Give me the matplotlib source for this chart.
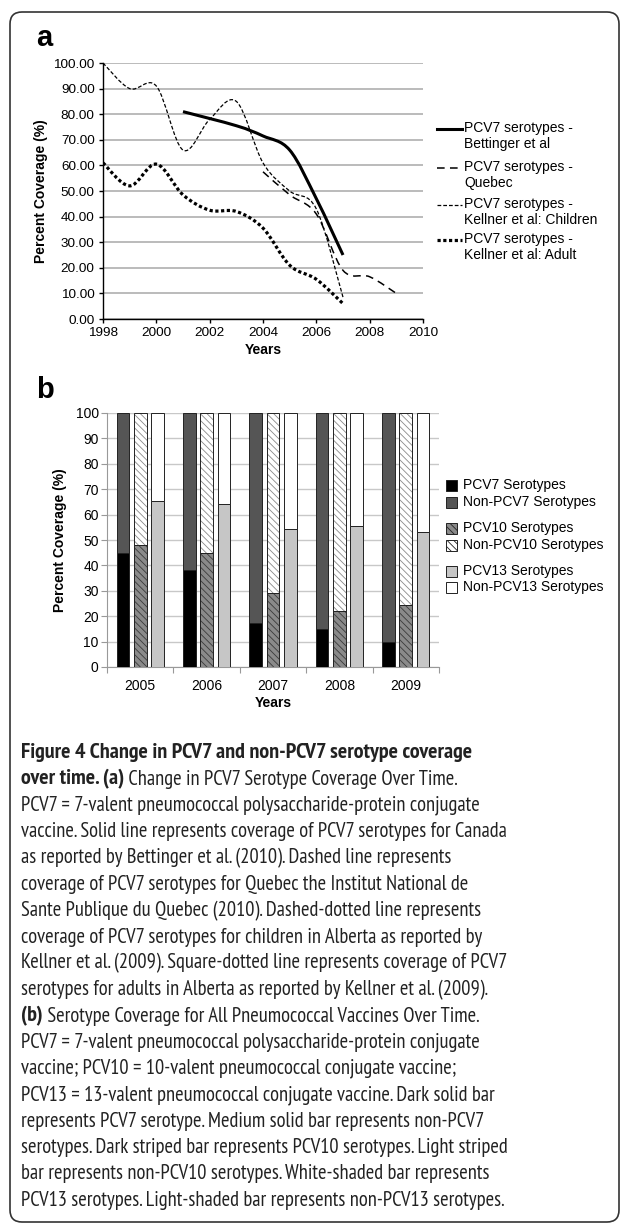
import numpy as np
import matplotlib
matplotlib.use('Agg')
import matplotlib.pyplot as plt
from matplotlib import font_manager
from matplotlib.path import Path
from matplotlib.patches import PathPatch, FancyBboxPatch, Rectangle
from matplotlib.lines import Line2D
from matplotlib.transforms import IdentityTransform
from matplotlib.ticker import FormatStrFormatter

# ---- panel a data (percent coverage by year) ----
bett_years = [2001, 2003, 2004, 2005, 2006, 2007]
bett_vals = [81, 75.5, 71.5, 66, 47, 25]
queb_years = [2004, 2005, 2006, 2007, 2008, 2009]
queb_vals = [57.5, 48.5, 41, 19, 16.5, 10]
child_years = [1998, 1999, 2000, 2001, 2002, 2003, 2004, 2005, 2006, 2007]
child_vals = [100, 90, 91, 66, 78, 85, 61, 50, 43, 8.5]
adult_years = [1998, 1999, 2000, 2001, 2002, 2003, 2004, 2005, 2006, 2007]
adult_vals = [61, 52, 60.5, 48.5, 42.5, 42, 35.5, 21, 15.5, 6]

# ---- panel b data ----
b_years = ['2005', '2006', '2007', '2008', '2009']
pcv7 = [45, 38, 17.5, 15, 10]
pcv10 = [48, 45, 29, 22, 24.5]
pcv13 = [65.5, 64, 54.5, 55.5, 53]

caption = [
    [("Figure 4 Change in PCV7 and non-PCV7 serotype coverage", 'bold')],
    [("over time. (a)", 'bold'), (" Change in PCV7 Serotype Coverage Over Time.", 'light')],
    [("PCV7 = 7-valent pneumococcal polysaccharide-protein conjugate", 'light')],
    [("vaccine. Solid line represents coverage of PCV7 serotypes for Canada", 'light')],
    [("as reported by Bettinger et al. (2010). Dashed line represents", 'light')],
    [("coverage of PCV7 serotypes for Quebec the Institut National de", 'light')],
    [("Sante Publique du Quebec (2010). Dashed-dotted line represents", 'light')],
    [("coverage of PCV7 serotypes for children in Alberta as reported by", 'light')],
    [("Kellner et al. (2009). Square-dotted line represents coverage of PCV7", 'light')],
    [("serotypes for adults in Alberta as reported by Kellner et al. (2009).", 'light')],
    [("(b)", 'bold'), (" Serotype Coverage for All Pneumococcal Vaccines Over Time.", 'light')],
    [("PCV7 = 7-valent pneumococcal polysaccharide-protein conjugate", 'light')],
    [("vaccine; PCV10 = 10-valent pneumococcal conjugate vaccine;", 'light')],
    [("PCV13 = 13-valent pneumococcal conjugate vaccine. Dark solid bar", 'light')],
    [("represents PCV7 serotype. Medium solid bar represents non-PCV7", 'light')],
    [("serotypes. Dark striped bar represents PCV10 serotypes. Light striped", 'light')],
    [("bar represents non-PCV10 serotypes. White-shaded bar represents", 'light')],
    [("PCV13 serotypes. Light-shaded bar represents non-PCV13 serotypes.", 'light')],
]


def pick(names):
    for n in names:
        try:
            font_manager.findfont(n, fallback_to_default=False)
            return n
        except ValueError:
            pass
    return 'DejaVu Sans'


plt.rcParams['font.family'] = 'Liberation Sans'
plt.rcParams['hatch.linewidth'] = 0.6
cap_font = pick(['PT Sans Narrow', 'Roboto Condensed', 'Fira Sans Condensed',
                 'Open Sans Condensed', 'Archivo Narrow', 'Source Sans 3', 'Lato'])

W, H = 629, 1225
fig = plt.figure(figsize=(W / 100, H / 100), dpi=100)
renderer = fig.canvas.get_renderer()


def fx(x):
    return x / W


def fy(y):
    return 1 - y / H


def smooth(ax, xs, ys, **kw):
    # Excel-like smoothed line (Catmull-Rom as cubic bezier)
    p = np.column_stack([xs, ys]).astype(float)
    ext = np.vstack([p[0], p, p[-1]])
    verts = [p[0]]
    codes = [Path.MOVETO]
    for i in range(len(p) - 1):
        p0, p1, p2, p3 = ext[i], ext[i + 1], ext[i + 2], ext[i + 3]
        verts += [p1 + (p2 - p0) / 6, p2 - (p3 - p1) / 6, p2]
        codes += [Path.CURVE4] * 3
    ax.add_patch(PathPatch(Path(verts, codes), fill=False, **kw))


# frame
fig.add_artist(FancyBboxPatch((10, H - 1222), 609, 1210,
                              boxstyle='round,pad=0,rounding_size=12',
                              transform=IdentityTransform(), fc='none',
                              ec='#333333', lw=1.2))

# ================= panel a =================
ax = fig.add_axes([fx(103), fy(319), fx(423) - fx(103), fy(63) - fy(319)])
styles = [
    dict(ec='black', lw=2.2, linestyle='-'),
    dict(ec='black', lw=1.1, linestyle=(0, (5, 3.5))),
    dict(ec='black', lw=0.9, linestyle=(0, (3, 1.6))),
    dict(ec='black', lw=2.3, linestyle=(0, (1, 0.8)), capstyle='butt'),
]
series = [(bett_years, bett_vals), (queb_years, queb_vals),
          (child_years, child_vals), (adult_years, adult_vals)]
for (xs, ys), st in zip(series, styles):
    smooth(ax, xs, ys, **st)

ax.set_xlim(1998, 2010)
ax.set_ylim(0, 100)
ax.set_xticks(range(1998, 2011, 2))
ax.set_yticks(range(0, 101, 10))
ax.yaxis.set_major_formatter(FormatStrFormatter('%.2f'))
ax.grid(axis='y', color='#a8a8a8', lw=1.1)
ax.set_axisbelow(True)
for s in ['top', 'right']:
    ax.spines[s].set_visible(False)
ax.spines['left'].set_linewidth(1.0)
ax.spines['bottom'].set_linewidth(1.0)
ax.tick_params(labelsize=9.7, length=3, width=1, pad=3)
ax.set_xlabel('Years', fontsize=10, fontweight='bold', labelpad=3)
ax.set_ylabel('Percent Coverage (%)', fontsize=10, fontweight='bold', labelpad=4)

fig.text(fx(36), fy(38), 'a', fontsize=21, fontweight='bold', va='center')

# legend a (handle sits next to the first text line)
leg_a = [("PCV7 serotypes -\nBettinger et al", 129),
         ("PCV7 serotypes -\nQuebec", 168),
         ("PCV7 serotypes -\nKellner et al: Children", 205),
         ("PCV7 serotypes -\nKellner et al: Adult", 240)]
for (lab, yy), st in zip(leg_a, styles):
    ls = st['linestyle']
    fig.add_artist(Line2D([fx(437), fx(462)], [fy(yy), fy(yy)], color='black',
                          lw=st['lw'], linestyle=ls,
                          dash_capstyle=st.get('capstyle', 'butt')))
    fig.text(fx(464), fy(yy - 8), lab, fontsize=10, va='top', linespacing=1.15)

# ================= panel b =================
bx = fig.add_axes([fx(107), fy(667), fx(439) - fx(107), fy(413) - fy(667)])
x = np.arange(len(b_years))
bw = 0.19
off = 0.26
rest7 = [100 - v for v in pcv7]
rest10 = [100 - v for v in pcv10]
rest13 = [100 - v for v in pcv13]
edge = '#222222'

bx.bar(x - off, pcv7, bw, color='black', ec=edge, lw=0.7, zorder=3)
bx.bar(x - off, rest7, bw, bottom=pcv7, color='#555555', ec=edge, lw=0.7, zorder=3)

bx.bar(x, pcv10, bw, color='#8a8a8a', ec='#3a3a3a', lw=0, hatch='\\\\\\\\\\', zorder=3)
bx.bar(x, rest10, bw, bottom=pcv10, color='white', ec='#8a8a8a', lw=0, hatch='\\\\\\\\\\', zorder=3)
bx.bar(x, pcv10, bw, fill=False, ec=edge, lw=0.7, zorder=4)
bx.bar(x, rest10, bw, bottom=pcv10, fill=False, ec=edge, lw=0.7, zorder=4)

bx.bar(x + off, pcv13, bw, color='#c6c6c6', ec=edge, lw=0.7, zorder=3)
bx.bar(x + off, rest13, bw, bottom=pcv13, color='white', ec=edge, lw=0.7, zorder=3)

bx.set_xlim(-0.5, len(b_years) - 0.5)
bx.set_ylim(0, 100)
bx.set_yticks(range(0, 101, 10))
bx.set_xticks(np.arange(-0.5, len(b_years), 1))
bx.set_xticklabels([])
bx.set_xticks(x, minor=True)
bx.set_xticklabels(b_years, minor=True)
bx.tick_params(axis='x', which='minor', length=0, labelsize=10, pad=9)
bx.tick_params(axis='x', which='major', length=4, color='#999999')
bx.tick_params(axis='y', labelsize=10, length=4, color='#999999', pad=2)
bx.grid(axis='y', color='#c8c8c8', lw=1.0, zorder=0)
bx.set_axisbelow(True)
for s in ['top', 'right']:
    bx.spines[s].set_visible(False)
bx.spines['left'].set_color('#999999')
bx.spines['bottom'].set_color('#999999')
bx.set_xlabel('Years', fontsize=10, fontweight='bold', labelpad=2)
bx.set_ylabel('Percent Coverage (%)', fontsize=10, fontweight='bold', labelpad=6)

fig.text(fx(36), fy(390), 'b', fontsize=21, fontweight='bold', va='center')

# legend b
leg_b = [("PCV7 Serotypes", 485, dict(fc='black')),
         ("Non-PCV7 Serotypes", 502, dict(fc='#555555')),
         ("PCV10 Serotypes", 528, dict(fc='#8a8a8a', hatch='\\\\\\\\\\')),
         ("Non-PCV10 Serotypes", 545, dict(fc='white', hatch='\\\\\\\\\\')),
         ("PCV13 Serotypes", 571, dict(fc='#c6c6c6')),
         ("Non-PCV13 Serotypes", 587, dict(fc='white'))]
for lab, yy, kw in leg_b:
    fig.add_artist(Rectangle((fx(446), fy(yy + 5.5)), fx(11), 11 / H,
                             ec=edge, lw=0.7, transform=fig.transFigure, **kw))
    fig.text(fx(463), fy(yy), lab, fontsize=10, va='center')

# ================= caption =================
# size the caption font so the line widths match the printed figure
probe = fig.text(0, 0, caption[3][0][0], fontsize=10, family=cap_font, fontweight='light')
cap_size = 10 * 487 / probe.get_window_extent(renderer).width
probe.remove()
probe = fig.text(0, 0, caption[0][0][0], fontsize=10, family=cap_font, fontweight='bold')
bold_size = 10 * 452 / probe.get_window_extent(renderer).width
probe.remove()

y0 = 753
for i, parts in enumerate(caption):
    yy = y0 + i * 26.3
    xx = 21
    for txt, wt in parts:
        sz = bold_size if wt == 'bold' else cap_size
        t = fig.text(fx(xx), fy(yy), txt, fontsize=sz, family=cap_font,
                     fontweight=wt, va='center', color='#222222')
        xx += t.get_window_extent(renderer).width

fig.savefig('out.png', dpi=100)
